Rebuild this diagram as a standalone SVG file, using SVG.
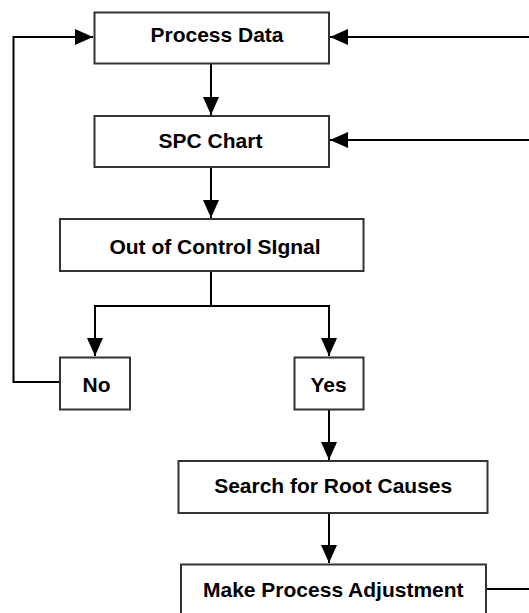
<svg xmlns="http://www.w3.org/2000/svg" width="529" height="613" viewBox="0 0 529 613">
<style>
.box{fill:#fff;stroke:#333;stroke-width:2}
.lbl{font-family:"Liberation Sans",Arial,sans-serif;font-size:21px;font-weight:bold;fill:#000;text-anchor:middle}
.c{fill:none;stroke:#000;stroke-width:2}
</style>
<defs>
<marker id="ah" markerUnits="userSpaceOnUse" markerWidth="18" markerHeight="16" refX="18" refY="8" orient="auto" viewBox="0 0 18 16">
<path d="M0,0 L18,8 L0,16 z" fill="#000"/>
</marker>
</defs>
<rect width="529" height="613" fill="#fff"/>
<g id="connectors">
<path class="c" d="M529,37 H330" marker-end="url(#ah)"/>
<path class="c" d="M529,140 H330" marker-end="url(#ah)"/>
<path class="c" d="M211,63 V115" marker-end="url(#ah)"/>
<path class="c" d="M211,167 V218" marker-end="url(#ah)"/>
<path class="c" d="M211,271 V306 H95 V356" marker-end="url(#ah)"/>
<path class="c" d="M211,306 H329 V356" marker-end="url(#ah)"/>
<path class="c" d="M60,382 H13.5 V37 H93" marker-end="url(#ah)"/>
<path class="c" d="M329,409 V460" marker-end="url(#ah)"/>
<path class="c" d="M329,513 V563" marker-end="url(#ah)"/>
<path class="c" d="M486,589 H529"/>
</g>
<g id="process-data"><rect class="box" x="94.5" y="12.5" width="234.5" height="51"/><text class="lbl" x="217" y="42.3">Process Data</text></g>
<g id="spc-chart"><rect class="box" x="94.5" y="116" width="234.5" height="51"/><text class="lbl" x="210.5" y="148.3">SPC Chart</text></g>
<g id="out-of-control"><rect class="box" x="60" y="219" width="303.5" height="52"/><text class="lbl" x="215" y="254">Out of Control SIgnal</text></g>
<g id="no"><rect class="box" x="60" y="357.5" width="70" height="52"/><text class="lbl" x="96.5" y="391.7">No</text></g>
<g id="yes"><rect class="box" x="294.5" y="357.5" width="69" height="52"/><text class="lbl" x="328.6" y="391.7">Yes</text></g>
<g id="search"><rect class="box" x="178.5" y="461" width="309" height="52"/><text class="lbl" x="333.2" y="492.7">Search for Root Causes</text></g>
<g id="adjust"><rect class="box" x="181" y="564.5" width="305" height="60"/><text class="lbl" x="333.3" y="596.7">Make Process Adjustment</text></g>
</svg>
